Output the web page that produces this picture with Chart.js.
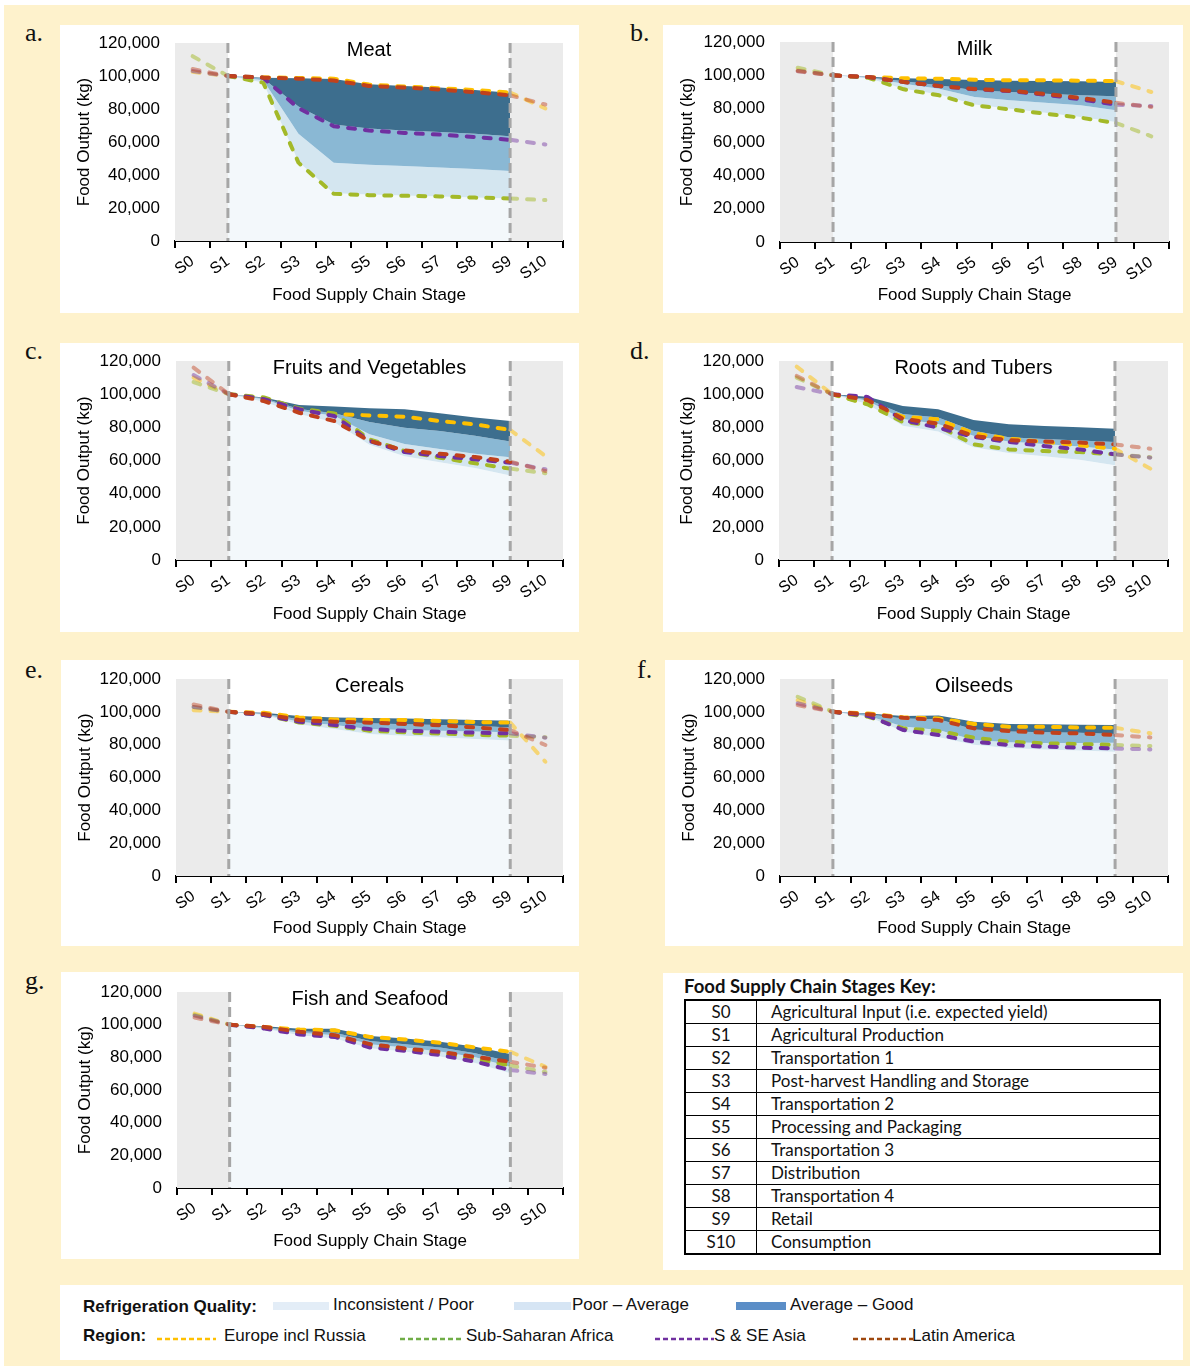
<!DOCTYPE html>
<html>
<head>
<meta charset="utf-8">
<title>Food output along the supply chain</title>
<script src="https://cdn.jsdelivr.net/npm/chart.js@4.4.1/dist/chart.umd.min.js"></script>
<style>
  html, body { margin: 0; padding: 0; background: #fff; }
  #page { position: relative; width: 1194px; height: 1369px; overflow: hidden; background: #fff; }
  #frame { position: absolute; left: 4px; top: 5px; width: 1186px; height: 1361px; background: #fef2cc; }
  .panel { position: absolute; background: #fff; }
  .panel canvas { display: block; }
  .tag { position: absolute; font-family: "Liberation Serif", "Times New Roman", serif; font-size: 26px; line-height: 26px; color: #111; }
  #keybox { font-family: Lato, "Noto Sans", sans-serif; color: #111; }
  #keytitle { position: absolute; left: 21px; top: 2px; font-weight: bold; font-size: 18.5px; }
  #keytable { position: absolute; left: 21px; top: 26px; width: 477px; border-collapse: collapse; border: 2px solid #000; font-size: 17px; }
  #keytable td { border: 1.5px solid #000; height: 22px; padding: 0; line-height: 22px; }
  #keytable td.code { width: 70px; text-align: center; }
  #keytable td.name { padding-left: 14px; }
  #legendbox { font-family: "Liberation Sans", Arial, sans-serif; font-size: 17px; color: #111; }
  #legendbox .it { position: absolute; transform: translateY(-50%); white-space: nowrap; }
  #legendbox .hd { font-weight: bold; }
  #legendbox .sw { position: absolute; height: 8px; }
  #legendbox svg { position: absolute; overflow: visible; }
</style>
</head>
<body>
<div id="page">
  <div id="frame"></div>
</div>
<script>
// Supply-chain stages (category axis) and their descriptions
const STAGES = ['S0', 'S1', 'S2', 'S3', 'S4', 'S5', 'S6', 'S7', 'S8', 'S9', 'S10'];
const STAGE_NAMES = [
  'Agricultural Input (i.e. expected yield)',
  'Agricultural Production',
  'Transportation 1',
  'Post-harvest Handling and Storage',
  'Transportation 2',
  'Processing and Packaging',
  'Transportation 3',
  'Distribution',
  'Transportation 4',
  'Retail',
  'Consumption'
];
const REGIONS = ['Europe incl Russia', 'Sub-Saharan Africa', 'S & SE Asia', 'Latin America'];
const QUALITIES = ['Inconsistent / Poor', 'Poor \u2013 Average', 'Average \u2013 Good'];
const Y_TICKS = [0, 20000, 40000, 60000, 80000, 100000, 120000];

// Food output (kg) per stage, by region. Bands are the refrigeration-quality envelopes (S1..S9).
const MEAT_EUROPE = [102500, 100000, 99200, 98800, 98400, 94800, 93600, 92600, 91500, 90000, 80300];
const MEAT_SSA    = [112000, 100000, 96000, 47500, 28600, 27800, 27400, 27000, 26300, 25800, 24800];
const MEAT_ASIA   = [103000, 100000, 99000, 80500, 69600, 67000, 65500, 64500, 63000, 61300, 58500];
const MEAT_LATAM  = [104200, 100000, 99000, 98400, 97300, 94000, 93000, 91800, 90200, 88300, 82700];
const MEAT_BASE   = [null, 100000, 96000, 48000, 29000, 28200, 27600, 27000, 26400, 25800, null];
const MEAT_LIGHT  = [null, 100000, 97500, 65000, 47400, 46200, 45400, 44600, 43600, 42400, null];
const MEAT_MID    = [null, 100000, 98500, 81500, 70600, 68200, 67000, 66000, 65000, 63500, null];
const MEAT_DARK   = [null, 100000, 99000, 98600, 98200, 95000, 94000, 93000, 91500, 89800, null];

const MILK_EUROPE = [103000, 100000, 99000, 98200, 98000, 97400, 97000, 97000, 96800, 96500, 90000];
const MILK_SSA    = [104600, 100000, 98500, 91600, 88000, 82000, 79600, 77000, 74600, 71400, 63400];
const MILK_ASIA   = [102600, 100000, 99000, 96000, 93600, 91600, 90600, 88400, 85600, 82400, 81600];
const MILK_LATAM  = [102400, 100000, 99000, 96000, 93600, 91800, 90800, 88800, 86500, 83500, 81000];
const MILK_BASE   = [null, 100000, 98200, 92000, 88500, 82500, 80000, 77500, 75000, 72000, null];
const MILK_LIGHT  = [null, 100000, 98500, 95000, 92000, 87000, 85000, 83500, 82000, 79000, null];
const MILK_MID    = [null, 100000, 98800, 96500, 94000, 91000, 90000, 89000, 88000, 87400, null];
const MILK_DARK   = [null, 100000, 99200, 98200, 97800, 97200, 96800, 96600, 96400, 96000, null];

const FRUIT_EUROPE = [110000, 100000, 97500, 90500, 88000, 87200, 86400, 83800, 81800, 78400, 62700];
const FRUIT_SSA    = [107300, 100000, 98000, 91300, 88400, 72800, 65700, 61700, 58300, 55100, 52300];
const FRUIT_ASIA   = [111500, 100000, 97000, 90900, 86800, 71800, 65100, 62700, 60700, 58700, 54700];
const FRUIT_LATAM  = [116000, 100000, 95800, 88800, 83800, 71800, 66100, 64100, 62100, 59300, 53700];
const FRUIT_BASE   = [null, 100000, 95500, 88000, 83000, 69500, 62500, 59000, 55500, 51000, null];
const FRUIT_LIGHT  = [null, 100000, 97000, 90000, 87000, 75800, 70000, 67000, 64000, 62000, null];
const FRUIT_MID    = [null, 100000, 97500, 91000, 88500, 83200, 79800, 77800, 75000, 71400, null];
const FRUIT_DARK   = [null, 100000, 98000, 93500, 92500, 91500, 90900, 88500, 86000, 83800, null];

const ROOT_EUROPE = [116600, 100000, 94300, 86400, 84800, 76400, 73200, 71200, 69100, 67100, 55100];
const ROOT_SSA    = [110000, 100000, 93900, 83200, 80800, 69700, 66700, 65700, 65100, 63700, 62000];
const ROOT_ASIA   = [104300, 100000, 98300, 84400, 79800, 74200, 71200, 68700, 66700, 63700, 61700];
const ROOT_LATAM  = [111000, 100000, 96500, 85200, 82200, 74800, 72200, 71400, 70800, 69700, 67100];
const ROOT_BASE   = [null, 100000, 94000, 81000, 77500, 68000, 64500, 62500, 60500, 57100, null];
const ROOT_LIGHT  = [null, 100000, 96000, 85000, 82000, 75000, 71500, 70000, 68500, 66700, null];
const ROOT_MID    = [null, 100000, 97000, 88000, 86000, 78000, 74000, 73000, 72000, 71200, null];
const ROOT_DARK   = [null, 100000, 98500, 92900, 90900, 84400, 81800, 80800, 80000, 79200, null];

const CEREAL_EUROPE = [101000, 100000, 99500, 96600, 95400, 95000, 95000, 94400, 93800, 93400, 69600];
const CEREAL_SSA    = [103000, 100000, 98000, 93500, 91500, 88500, 87500, 86800, 86000, 85500, 84500];
const CEREAL_ASIA   = [103000, 100000, 98000, 94000, 92000, 89500, 88500, 87900, 87300, 86900, 84200];
const CEREAL_LATAM  = [104500, 100000, 98700, 95000, 94000, 93400, 92600, 91800, 90500, 88900, 79800];
const CEREAL_BASE   = [null, 100000, 98000, 92500, 89500, 86500, 85500, 84500, 83500, 82500, null];
const CEREAL_LIGHT  = [null, 100000, 98500, 94000, 92000, 89500, 89000, 88500, 88000, 87500, null];
const CEREAL_MID    = [null, 100000, 99000, 95500, 94000, 93000, 92500, 92000, 91500, 90500, null];
const CEREAL_DARK   = [null, 100000, 99500, 97500, 96500, 96300, 96000, 95500, 95000, 94600, null];

const OIL_EUROPE = [107000, 100000, 99000, 96600, 96000, 92600, 90900, 90900, 90500, 90300, 86900];
const OIL_SSA    = [109200, 100000, 97000, 89900, 88300, 84200, 81800, 80800, 80400, 79800, 79200];
const OIL_ASIA   = [105200, 100000, 97500, 88900, 85900, 81800, 79800, 78800, 78200, 77700, 77100];
const OIL_LATAM  = [104100, 100000, 98500, 96400, 95000, 89900, 88300, 87300, 86900, 85900, 84400];
const OIL_BASE   = [null, 100000, 97000, 88000, 84500, 80000, 78000, 77000, 76500, 75700, null];
const OIL_LIGHT  = [null, 100000, 97500, 91000, 89000, 82800, 81500, 81000, 81000, 81200, null];
const OIL_MID    = [null, 100000, 98500, 96000, 95500, 89300, 88000, 87500, 87200, 86500, null];
const OIL_DARK   = [null, 100000, 99000, 97500, 97800, 94000, 92600, 92400, 92200, 92000, null];

const FISH_EUROPE = [106800, 100000, 98600, 97000, 96600, 92500, 90900, 88900, 86000, 83400, 74200];
const FISH_SSA    = [106000, 100000, 98000, 95000, 93000, 87000, 85000, 82500, 79000, 75000, 71000];
const FISH_ASIA   = [105500, 100000, 97600, 94000, 92500, 86000, 84000, 81400, 77300, 72200, 69800];
const FISH_LATAM  = [104300, 100000, 98600, 95600, 93600, 88100, 85400, 83400, 80300, 77300, 73600];
const FISH_BASE   = [null, 100000, 97500, 93500, 91500, 85500, 83500, 80500, 76500, 70200, null];
const FISH_LIGHT  = [null, 100000, 98000, 95000, 93500, 88000, 86000, 83500, 80000, 74200, null];
const FISH_MID    = [null, 100000, 98500, 96000, 95000, 90000, 88000, 86000, 82500, 77300, null];
const FISH_DARK   = [null, 100000, 99000, 97500, 97500, 93000, 91500, 89500, 86500, 82000, null];

// ---- styling ----
const FONT = '"Liberation Sans", Arial, Helvetica, sans-serif';
const LINE_COLORS = ['#ffc000', '#a3b928', '#7030a0', '#c0411c'];
const LINE_FADED  = ['rgba(255,192,0,0.5)', 'rgba(163,185,40,0.5)', 'rgba(112,48,160,0.45)', 'rgba(192,65,28,0.45)'];
const BAND_COLORS = ['#f3f8fb', '#d4e6f0', '#8ab8d4', '#3d6e8e'];
const LEGEND_SWATCH = ['#e3edf7', '#d6e5f4', '#5b8ec7'];
const LEGEND_LINE = ['#ffc000', '#70ad47', '#7030a0', '#9e480e'];

const PANELS = [
  { tag: 'a.', tagPos: [25, 20], title: 'Meat', box: [60, 25, 519, 288], area: [115, 18, 503, 216],
    lines: [MEAT_EUROPE, MEAT_SSA, MEAT_ASIA, MEAT_LATAM], bands: [MEAT_BASE, MEAT_LIGHT, MEAT_MID, MEAT_DARK] },
  { tag: 'b.', tagPos: [630, 20], title: 'Milk', box: [663, 25, 520, 288], area: [117, 17, 506, 217],
    lines: [MILK_EUROPE, MILK_SSA, MILK_ASIA, MILK_LATAM], bands: [MILK_BASE, MILK_LIGHT, MILK_MID, MILK_DARK] },
  { tag: 'c.', tagPos: [25, 338], title: 'Fruits and Vegetables', box: [60, 343, 519, 289], area: [116, 18, 503, 217],
    lines: [FRUIT_EUROPE, FRUIT_SSA, FRUIT_ASIA, FRUIT_LATAM], bands: [FRUIT_BASE, FRUIT_LIGHT, FRUIT_MID, FRUIT_DARK] },
  { tag: 'd.', tagPos: [630, 338], title: 'Roots and Tubers', box: [663, 343, 520, 289], area: [116, 18, 505, 217],
    lines: [ROOT_EUROPE, ROOT_SSA, ROOT_ASIA, ROOT_LATAM], bands: [ROOT_BASE, ROOT_LIGHT, ROOT_MID, ROOT_DARK] },
  { tag: 'e.', tagPos: [25, 657], title: 'Cereals', box: [61, 660, 518, 286], area: [115, 19, 502, 216],
    lines: [CEREAL_EUROPE, CEREAL_SSA, CEREAL_ASIA, CEREAL_LATAM], bands: [CEREAL_BASE, CEREAL_LIGHT, CEREAL_MID, CEREAL_DARK] },
  { tag: 'f.', tagPos: [637, 657], title: 'Oilseeds', box: [665, 660, 518, 286], area: [115, 19, 503, 216],
    lines: [OIL_EUROPE, OIL_SSA, OIL_ASIA, OIL_LATAM], bands: [OIL_BASE, OIL_LIGHT, OIL_MID, OIL_DARK] },
  { tag: 'g.', tagPos: [25, 968], title: 'Fish and Seafood', box: [61, 972, 518, 287], area: [116, 20, 502, 216],
    lines: [FISH_EUROPE, FISH_SSA, FISH_ASIA, FISH_LATAM], bands: [FISH_BASE, FISH_LIGHT, FISH_MID, FISH_DARK] }
];

const page = document.getElementById('page');

function el(tag, cls, parent) {
  const e = document.createElement(tag);
  if (cls) e.className = cls;
  (parent || page).appendChild(e);
  return e;
}

// Shaded "outside the chain" zones, stage-boundary markers and the in-plot title
function decorPlugin(title) {
  return {
    id: 'panelDecor',
    beforeDatasetsDraw(chart) {
      const { ctx, chartArea: a, scales: { x } } = chart;
      const s1 = x.getPixelForValue(1), s9 = x.getPixelForValue(9);
      ctx.save();
      ctx.fillStyle = '#ebebeb';
      ctx.fillRect(a.left, a.top, s1 - a.left, a.bottom - a.top);
      ctx.fillRect(s9, a.top, a.right - s9, a.bottom - a.top);
      ctx.restore();
    },
    afterDatasetsDraw(chart) {
      const { ctx, chartArea: a, scales: { x } } = chart;
      ctx.save();
      ctx.strokeStyle = '#a6a6a6';
      ctx.lineWidth = 3;
      ctx.setLineDash([10, 5]);
      [1, 9].forEach(i => {
        const px = x.getPixelForValue(i);
        ctx.beginPath();
        ctx.moveTo(px, a.top);
        ctx.lineTo(px, a.bottom);
        ctx.stroke();
      });
      ctx.restore();
    },
    afterDraw(chart) {
      const { ctx, chartArea: a } = chart;
      ctx.save();
      ctx.font = '20px ' + FONT;
      ctx.fillStyle = '#000';
      ctx.textAlign = 'center';
      ctx.textBaseline = 'alphabetic';
      ctx.fillText(title, (a.left + a.right) / 2, a.top + 13);
      ctx.restore();
    }
  };
}

function buildPanel(p) {
  const [bx, by, bw, bh] = p.box;
  const [L, T, R, B] = p.area;

  const tag = el('div', 'tag');
  tag.textContent = p.tag;
  tag.style.left = p.tagPos[0] + 'px';
  tag.style.top = p.tagPos[1] + 'px';

  const wrap = el('div', 'panel');
  wrap.style.left = bx + 'px';
  wrap.style.top = by + 'px';
  wrap.style.width = bw + 'px';
  wrap.style.height = bh + 'px';
  const cv = el('canvas', null, wrap);
  cv.width = bw; cv.height = bh;
  cv.style.width = bw + 'px'; cv.style.height = bh + 'px';

  const datasets = [];
  p.bands.forEach((arr, i) => {
    datasets.push({
      label: QUALITIES[Math.min(i, 2)],
      data: arr,
      borderColor: 'rgba(0,0,0,0)',
      borderWidth: 0,
      backgroundColor: BAND_COLORS[i],
      pointRadius: 0,
      pointHoverRadius: 0,
      tension: 0,
      fill: i === 0 ? 'origin' : '-1',
      order: 20 - i
    });
  });
  p.lines.forEach((arr, i) => {
    datasets.push({
      label: REGIONS[i],
      data: arr,
      borderColor: LINE_COLORS[i],
      borderWidth: 4,
      borderDash: [7, 10],
      borderCapStyle: 'round',
      borderJoinStyle: 'round',
      pointRadius: 0,
      pointHoverRadius: 0,
      tension: 0,
      fill: false,
      order: 10 - i,
      segment: {
        borderColor: c => (c.p0DataIndex === 0 || c.p0DataIndex === 9) ? LINE_FADED[i] : undefined
      }
    });
  });

  new Chart(cv, {
    type: 'line',
    data: { labels: STAGES, datasets },
    plugins: [decorPlugin(p.title)],
    options: {
      responsive: false,
      animation: false,
      events: [],
      layout: { padding: { left: 0, top: T, right: bw - R, bottom: 0 } },
      plugins: { legend: { display: false }, tooltip: { enabled: false } },
      scales: {
        x: {
          type: 'category',
          offset: true,
          z: 1,
          grid: { display: true, offset: true, drawOnChartArea: false, drawTicks: true, tickLength: 7, color: '#000', lineWidth: 2 },
          border: { display: true, color: '#000', width: 2 },
          ticks: { color: '#000', font: { family: FONT, size: 16 }, minRotation: 35, maxRotation: 35, padding: 4, autoSkip: false },
          title: { display: true, text: 'Food Supply Chain Stage', color: '#000', font: { family: FONT, size: 17 }, padding: { top: 0, bottom: 7 } },
          afterFit: s => { s.height = bh - B; }
        },
        y: {
          min: 0,
          max: 120000,
          afterBuildTicks: s => { s.ticks = Y_TICKS.map(v => ({ value: v })); },
          grid: { display: false, drawTicks: true, tickLength: 15 },
          border: { display: false },
          ticks: { color: '#000', font: { family: FONT, size: 17 }, padding: 0, callback: v => Number(v).toLocaleString('en-US') },
          title: { display: true, text: 'Food Output (kg)', color: '#000', font: { family: FONT, size: 17 }, padding: { top: 14, bottom: 0 } },
          afterFit: s => { s.width = L; }
        }
      }
    }
  });
}

PANELS.forEach(buildPanel);

// ---- stage key table ----
const keybox = el('div', 'panel');
keybox.id = 'keybox';
Object.assign(keybox.style, { left: '663px', top: '973px', width: '520px', height: '297px' });
const kt = el('div', null, keybox);
kt.id = 'keytitle';
kt.textContent = 'Food Supply Chain Stages Key:';
const table = el('table', null, keybox);
table.id = 'keytable';
const tbody = el('tbody', null, table);
STAGES.forEach((s, i) => {
  const tr = el('tr', null, tbody);
  const c1 = el('td', 'code', tr); c1.textContent = s;
  const c2 = el('td', 'name', tr); c2.textContent = STAGE_NAMES[i];
});

// ---- legend ----
const lg = el('div', 'panel');
lg.id = 'legendbox';
Object.assign(lg.style, { left: '60px', top: '1285px', width: '1123px', height: '75px' });

function legendText(txt, x, y, bold) {
  const s = el('span', 'it' + (bold ? ' hd' : ''), lg);
  s.textContent = txt;
  s.style.left = x + 'px';
  s.style.top = y + 'px';
}
legendText('Refrigeration Quality:', 23, 22, true);
legendText('Region:', 23, 51, true);

const swatchX = [[213, 56, 273], [454, 57, 512], [676, 50, 730]];
QUALITIES.forEach((q, i) => {
  const sw = el('div', 'sw', lg);
  sw.style.left = swatchX[i][0] + 'px';
  sw.style.top = '17px';
  sw.style.width = swatchX[i][1] + 'px';
  sw.style.background = LEGEND_SWATCH[i];
  legendText(q, swatchX[i][2], 20, false);
});

const dashX = [[97, 59, 164], [340, 62, 406], [595, 59, 654], [793, 60, 852]];
REGIONS.forEach((r, i) => {
  const ns = 'http://www.w3.org/2000/svg';
  const svg = document.createElementNS(ns, 'svg');
  svg.setAttribute('width', dashX[i][1]);
  svg.setAttribute('height', 4);
  svg.style.left = dashX[i][0] + 'px';
  svg.style.top = '52px';
  const ln = document.createElementNS(ns, 'line');
  ln.setAttribute('x1', 0); ln.setAttribute('y1', 2);
  ln.setAttribute('x2', dashX[i][1]); ln.setAttribute('y2', 2);
  ln.setAttribute('stroke', LEGEND_LINE[i]);
  ln.setAttribute('stroke-width', 2.5);
  ln.setAttribute('stroke-dasharray', '5,3');
  svg.appendChild(ln);
  lg.appendChild(svg);
  legendText(r, dashX[i][2], 51, false);
});
</script>
</body>
</html>
